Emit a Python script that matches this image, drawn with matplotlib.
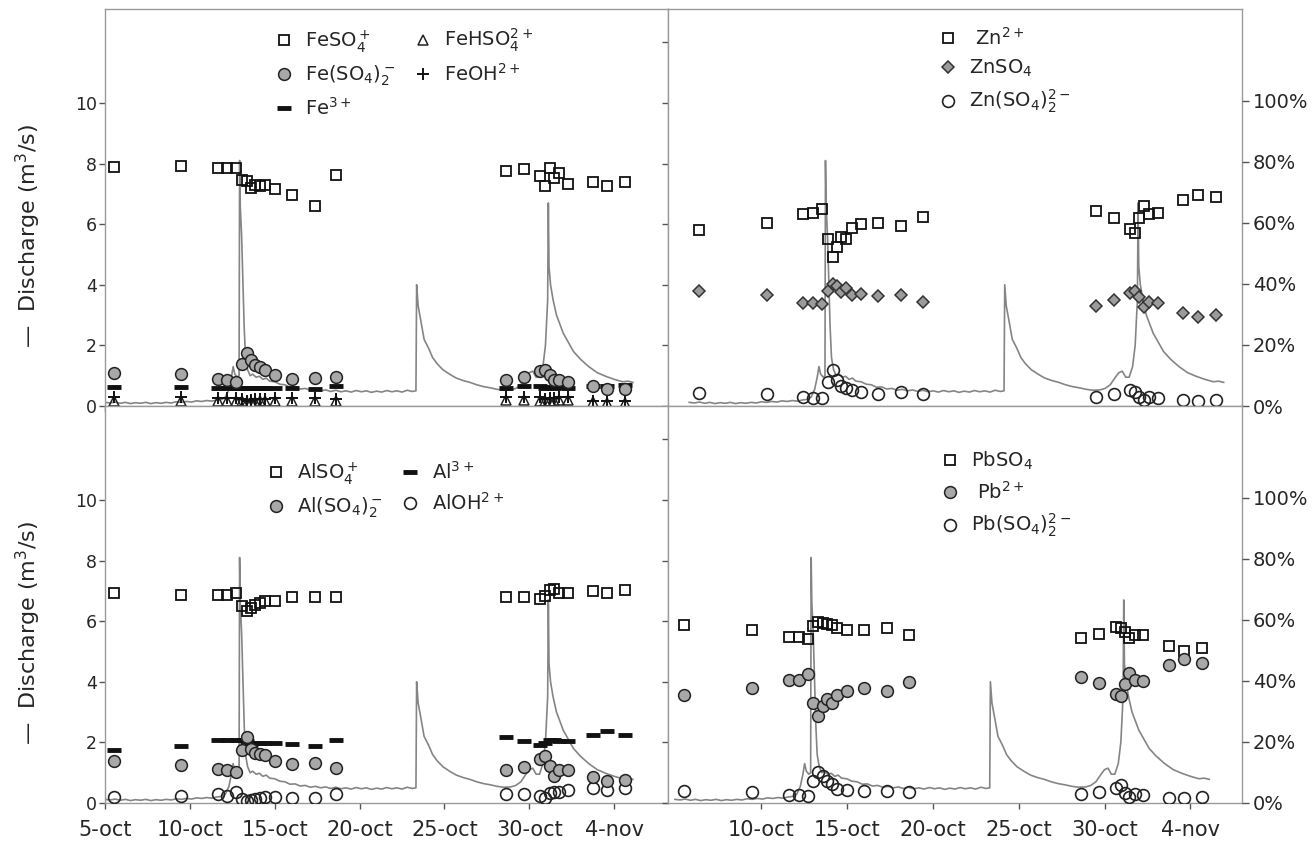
import numpy as np
import pandas as pd
import matplotlib
matplotlib.use("Agg")
import matplotlib.pyplot as plt

plt.rcParams['font.family'] = ['DejaVu Sans']
plt.rcParams['mathtext.fontset'] = 'dejavusans'

# time is counted in days from 30 Sep (5.5 -> 5 Oct, noon; 32 -> 1 Nov)
day0 = pd.Timestamp('2008-09-30')

sample_day = [5.55, 9.5, 11.65, 12.2, 12.72, 13.05, 13.35, 13.6, 13.85, 14.15, 14.45, 15.0, 16.0,
              17.35, 18.6, 28.65, 29.7, 30.65, 30.95, 31.2, 31.45, 31.75, 32.25, 33.75, 34.6, 35.65]

# discharge record (m3/s)
q_day = [5.0, 5.3, 5.6, 5.9, 6.2, 6.5, 6.8, 7.1, 7.4, 7.7, 8.0, 8.3, 8.6, 8.9, 9.2, 9.5, 9.8, 10.1,
         10.4, 10.7, 11.0, 11.3, 11.6, 11.9, 12.1, 12.3, 12.45, 12.55, 12.65, 12.8, 12.9, 12.93,
         12.97, 13.05, 13.12, 13.2, 13.28, 13.4, 13.55, 13.7, 13.9, 14.1, 14.3, 14.5, 14.7, 15.0,
         15.3, 15.6, 15.9, 16.2, 16.5, 16.8, 17.1, 17.4, 17.7, 18.0, 18.3, 18.6, 18.9, 19.2, 19.5,
         19.8, 20.1, 20.4, 20.7, 21.0, 21.3, 21.6, 21.9, 22.2, 22.5, 22.8, 23.1, 23.32, 23.36,
         23.45, 23.58, 23.8, 24.07, 24.3, 24.56, 24.9, 25.3, 25.7, 26.1, 26.5, 26.9, 27.3, 27.7,
         28.1, 28.5, 28.9, 29.2, 29.5, 29.8, 30.0, 30.2, 30.4, 30.6, 30.8, 30.95, 31.08, 31.12,
         31.16, 31.25, 31.4, 31.6, 31.8, 32.0, 32.3, 32.6, 33.0, 33.5, 34.0, 34.5, 35.0, 35.5,
         35.8, 36.1]
q_val = [0.12, 0.10, 0.13, 0.09, 0.12, 0.08, 0.11, 0.09, 0.12, 0.08, 0.11, 0.09, 0.12, 0.10, 0.14,
         0.12, 0.15, 0.13, 0.17, 0.15, 0.18, 0.16, 0.20, 0.22, 0.30, 0.55, 0.95, 1.30, 1.05, 0.95,
         1.00, 8.10, 6.60, 5.60, 4.20, 2.60, 1.60, 1.20, 1.00, 1.05, 0.95, 0.98, 0.88, 0.92, 0.82,
         0.80, 0.72, 0.70, 0.62, 0.63, 0.56, 0.58, 0.52, 0.55, 0.50, 0.53, 0.48, 0.52, 0.47, 0.50,
         0.46, 0.51, 0.47, 0.50, 0.45, 0.49, 0.46, 0.51, 0.47, 0.50, 0.46, 0.52, 0.48, 0.50, 4.00,
         3.30, 2.90, 2.20, 1.90, 1.60, 1.40, 1.20, 1.05, 0.92, 0.84, 0.78, 0.70, 0.64, 0.60, 0.55,
         0.52, 0.53, 0.58, 0.70, 0.95, 1.10, 1.15, 0.95, 0.95, 1.30, 2.00, 3.50, 6.70, 4.60, 4.00,
         3.50, 3.00, 2.70, 2.40, 2.10, 1.80, 1.55, 1.30, 1.10, 0.98, 0.88, 0.80, 0.82, 0.78]

# species distribution (%)
fe_so4 = [78.1, 78.5, 78.0, 78.0, 78.0, 74.0, 73.7, 71.5, 72.4, 71.9, 72.4, 71.0, 69.0, 65.6, 75.5,
          76.8, 77.7, 75.2, 71.9, 78.0, 74.6, 76.3, 72.7, 73.2, 71.9, 73.2]
fe_so4_2 = [10.8, 10.4, 8.9, 8.4, 7.8, 13.9, 17.2, 15.0, 13.4, 12.8, 11.7, 10.0, 8.7, 9.2, 9.5,
            8.4, 9.5, 11.5, 11.7, 10.0, 8.4, 8.4, 7.8, 6.5, 5.6, 5.6]
fe3 = [6.2, 6.2, 6.0, 6.0, 6.0, 6.0, 6.0, 6.0, 6.0, 6.0, 6.0, 6.0, 5.8, 5.5, 6.5,
       6.0, 6.5, 6.5, 6.0, 6.2, 6.0, 6.2, 6.0, 6.5, 6.5, 6.8]
fe_hso4 = [1.5, 1.6, 1.8, 1.8, 1.8, 1.5, 1.2, 1.3, 1.4, 1.5, 1.6, 1.7, 1.8, 1.8, 1.7,
           2.0, 2.0, 1.8, 1.5, 1.6, 1.8, 1.9, 2.0, 1.2, 1.0, 1.0]
fe_oh = [2.8, 2.8, 2.6, 2.6, 2.6, 2.2, 1.8, 2.0, 2.2, 2.3, 2.4, 2.5, 2.6, 2.6, 2.4,
         3.0, 3.0, 2.8, 2.4, 2.5, 2.6, 2.8, 2.8, 1.8, 1.6, 1.6]

zn2 = [57.5, 59.9, 62.8, 63.3, 64.4, 54.8, 48.9, 52.2, 55.2, 54.8, 58.3, 59.5, 59.9, 58.9, 61.9,
       63.9, 61.5, 58.1, 56.7, 61.7, 65.6, 62.8, 63.3, 67.4, 69.2, 68.3]
zn_so4 = [37.8, 36.4, 33.7, 33.7, 33.4, 37.8, 40.0, 39.3, 37.3, 38.6, 36.4, 36.7, 35.9, 36.4, 34.2,
          32.8, 34.8, 37.0, 37.5, 35.6, 32.3, 33.9, 33.7, 30.6, 29.3, 29.7]
zn_so4_2 = [4.2, 3.8, 2.9, 2.7, 2.7, 7.9, 11.8, 8.4, 6.4, 6.0, 5.3, 4.5, 4.0, 4.5, 3.8,
            3.1, 3.8, 5.3, 4.5, 2.9, 2.0, 3.1, 2.7, 2.0, 1.8, 2.0]

al_so4 = [68.9, 68.0, 68.0, 68.0, 68.9, 64.5, 62.8, 63.9, 65.0, 65.4, 66.2, 66.2, 67.3, 67.3, 67.3,
          67.3, 67.3, 66.7, 67.8, 69.8, 70.0, 68.9, 68.9, 69.5, 68.9, 69.8]
al_so4_2 = [13.6, 12.5, 11.0, 10.7, 10.3, 17.3, 21.7, 17.6, 16.5, 16.2, 15.8, 13.6, 12.7, 13.2, 11.6,
            10.7, 11.8, 14.3, 15.4, 12.1, 8.8, 10.7, 10.7, 8.5, 7.2, 7.4]
al3 = [17.3, 18.7, 20.6, 20.6, 20.6, 20.6, 20.4, 19.3, 19.5, 19.5, 19.5, 19.8, 19.3, 18.7, 20.6,
       21.5, 20.2, 19.1, 19.8, 20.6, 20.6, 20.4, 20.2, 22.4, 23.5, 22.3]
al_oh = [1.9, 2.2, 2.8, 2.2, 3.6, 1.4, 0.8, 1.1, 1.4, 1.7, 1.9, 1.9, 1.7, 1.7, 3.0,
         2.8, 2.8, 2.2, 1.7, 3.3, 3.6, 3.6, 4.1, 5.0, 4.4, 5.0]

pb_so4 = [58.3, 56.8, 54.3, 54.3, 53.6, 57.9, 59.3, 59.0, 58.7, 58.3, 57.2, 56.5, 56.5, 57.4, 54.9,
          53.9, 55.2, 57.6, 57.4, 56.1, 53.9, 54.9, 54.9, 51.4, 49.9, 50.8]
pb2 = [35.5, 37.7, 40.4, 40.4, 42.1, 32.8, 28.4, 31.7, 33.9, 32.8, 35.5, 36.6, 37.7, 36.6, 39.7,
       41.2, 39.3, 35.7, 35.0, 39.0, 42.6, 40.4, 40.1, 45.1, 47.0, 45.9]
pb_so4_2 = [4.0, 3.6, 2.7, 2.7, 2.4, 7.1, 10.2, 8.7, 7.1, 6.2, 4.7, 4.4, 4.0, 4.0, 3.6,
            3.0, 3.6, 4.9, 6.0, 3.3, 1.9, 3.0, 2.5, 1.6, 1.6, 1.9]

tick_dates = ['2008-10-05', '2008-10-10', '2008-10-15', '2008-10-20', '2008-10-25',
              '2008-10-30', '2008-11-04']

t_s = day0 + pd.to_timedelta(sample_day, unit='D')
t_q = day0 + pd.to_timedelta(q_day, unit='D')
ticks = pd.to_datetime(tick_dates)
tick_labels = [f"{d.day}-{d.strftime('%b').lower()}" for d in ticks]

# the Zn panel was pasted in slightly offset in time
zn_lag = pd.Timedelta(hours=20)

W, H = 1312, 850
fig = plt.figure(figsize=(W / 100, H / 100), dpi=100)


def box(x0, y0, x1, y1):
    return [x0 / W, 1 - y1 / H, (x1 - x0) / W, (y1 - y0) / H]


SPINE = '#9a9a9a'
TXT = '#262626'

SQ = dict(marker='s', ms=7.5, mfc='none', mec='#111111', mew=1.3)
GC = dict(marker='o', ms=8.5, mfc='#a8a8a8', mec='#222222', mew=1.1)
OC = dict(marker='o', ms=8.5, mfc='none', mec='#222222', mew=1.2)
TR = dict(marker='^', ms=7.5, mfc='none', mec='#222222', mew=1.1)
PL = dict(marker='+', ms=8, mec='#111111', mew=1.4)
DA = dict(marker='_', ms=10, mec='#111111', mew=3.5)
DI = dict(marker='D', ms=6.5, mfc='#9b9b9b', mec='#333333', mew=1.1)


def panel(rect, x0, x1, tick_pos, left_labels, right_labels, bottom_labels):
    ax = fig.add_axes(rect)
    ax.plot(t_q, q_val, color='#858585', lw=1.2, zorder=2)
    ax.set_xlim(x0, x1)
    ax.set_ylim(0, 13.1)
    ax.set_xticks(tick_pos)
    if bottom_labels:
        ax.set_xticklabels(bottom_labels, fontsize=15, color=TXT)
    else:
        ax.set_xticklabels([])
    if left_labels:
        ax.set_yticks([0, 2, 4, 6, 8, 10])
        ax.set_yticklabels(['0', '2', '4', '6', '8', '10'], fontsize=12.5, color=TXT)
    else:
        ax.set_yticks([0, 2, 4, 6, 8, 10, 12])
        ax.set_yticklabels([])
    ax.tick_params(direction='out', length=4, width=1, color='#555555', pad=2)
    ax.tick_params(axis='x', pad=8)
    for s in ax.spines.values():
        s.set_color(SPINE)
        s.set_linewidth(1.0)

    ax2 = ax.twinx()
    ax2.set_ylim(0, 130)
    for s in ax2.spines.values():
        s.set_visible(False)
    if right_labels:
        ax2.set_yticks([0, 20, 40, 60, 80, 100])
        ax2.set_yticklabels([f'{v}%' for v in [0, 20, 40, 60, 80, 100]], fontsize=14, color=TXT)
        ax2.tick_params(direction='out', length=5, width=1, color='#555555', pad=3)
    else:
        ax2.set_yticks([])
    return ax, ax2


x_left = (day0 + pd.Timedelta(days=5.0), day0 + pd.Timedelta(days=38.17))
x_right = (day0 + pd.Timedelta(days=4.6), day0 + pd.Timedelta(days=38.0))

ax_fe, fe = panel(box(105, 9, 668, 406), *x_left, ticks, True, False, None)
ax_zn, zn = panel(box(668, 9, 1242, 406), x_right[0] - zn_lag, x_right[1] - zn_lag,
                  ticks[1:] - zn_lag, False, True, None)
ax_al, al = panel(box(105, 406, 668, 803), *x_left, ticks, True, False, tick_labels)
ax_pb, pb = panel(box(668, 406, 1242, 803), *x_right, ticks[1:], False, True, tick_labels[1:])


def species(ax, vals, style, label):
    h, = ax.plot(t_s, vals, linestyle='none', label=label, zorder=3, **style)
    return h


# Fe
h_hso4 = species(fe, fe_hso4, TR, 'FeHSO$_4^{2+}$')
h_oh = species(fe, fe_oh, PL, 'FeOH$^{2+}$')
h_fe3 = species(fe, fe3, DA, 'Fe$^{3+}$')
h_so4 = species(fe, fe_so4, SQ, 'FeSO$_4^+$')
h_so42 = species(fe, fe_so4_2, GC, 'Fe(SO$_4$)$_2^-$')

# Zn
h_zn = species(zn, zn2, SQ, ' Zn$^{2+}$')
h_znso4 = species(zn, zn_so4, DI, 'ZnSO$_4$')
h_znso42 = species(zn, zn_so4_2, OC, 'Zn(SO$_4$)$_2^{2-}$')

# Al
h_al3 = species(al, al3, DA, 'Al$^{3+}$')
h_also4 = species(al, al_so4, SQ, 'AlSO$_4^+$')
h_aloh = species(al, al_oh, OC, 'AlOH$^{2+}$')
h_also42 = species(al, al_so4_2, GC, 'Al(SO$_4$)$_2^-$')

# Pb
h_pbso4 = species(pb, pb_so4, SQ, 'PbSO$_4$')
h_pb = species(pb, pb2, GC, ' Pb$^{2+}$')
h_pbso42 = species(pb, pb_so4_2, OC, 'Pb(SO$_4$)$_2^{2-}$')

leg_kw = dict(frameon=False, fontsize=14, borderpad=0, borderaxespad=0, handlelength=1.0,
              handletextpad=0.6, labelspacing=0.45, loc='upper left',
              bbox_transform=fig.transFigure, labelcolor=TXT)

fe.legend([h_so4, h_so42, h_fe3, h_hso4, h_oh],
          [h.get_label() for h in [h_so4, h_so42, h_fe3, h_hso4, h_oh]],
          ncol=2, columnspacing=0.9, bbox_to_anchor=(274 / W, 1 - 27 / H), **leg_kw)
zn.legend([h_zn, h_znso4, h_znso42], [h.get_label() for h in [h_zn, h_znso4, h_znso42]],
          bbox_to_anchor=(938 / W, 1 - 27 / H), **leg_kw)
al.legend([h_also4, h_also42, h_al3, h_aloh],
          [h.get_label() for h in [h_also4, h_also42, h_al3, h_aloh]],
          ncol=2, columnspacing=0.9, bbox_to_anchor=(266 / W, 1 - 460 / H), **leg_kw)
pb.legend([h_pbso4, h_pb, h_pbso42], [h.get_label() for h in [h_pbso4, h_pb, h_pbso42]],
          bbox_to_anchor=(940 / W, 1 - 450 / H), **leg_kw)

for yc in (236, 633):
    fig.text(28 / W, 1 - yc / H, '\u2014  Discharge (m$^3$/s)', rotation=90,
             ha='center', va='center', fontsize=16, color=TXT)

fig.savefig('out.png', dpi=100)
